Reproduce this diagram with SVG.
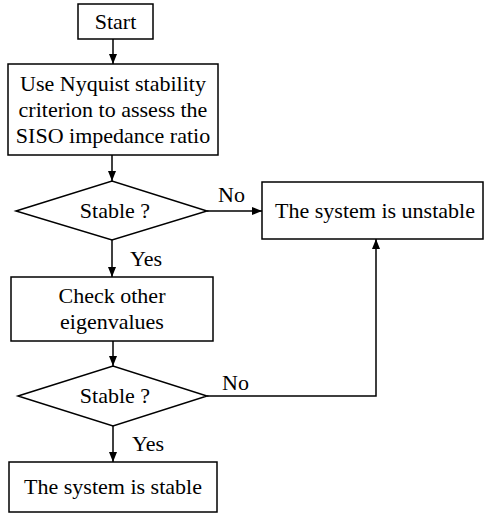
<svg xmlns="http://www.w3.org/2000/svg" width="484" height="515" viewBox="0 0 484 515">
<defs>
<style>
.box{fill:#fff;stroke:#000;stroke-width:1.5}
.t{font-family:'Liberation Serif','Times New Roman',serif;font-size:22px;fill:#000;text-anchor:middle}
.l{font-family:'Liberation Serif','Times New Roman',serif;font-size:22px;fill:#000}
.c{fill:none;stroke:#000;stroke-width:1.5}
</style>
<marker id="ah" markerWidth="10" markerHeight="8" refX="10" refY="4" orient="auto" markerUnits="userSpaceOnUse">
<path d="M0,0 L10,4 L0,8 Z" fill="#000"/>
</marker>
</defs>
<rect width="484" height="515" fill="#fff"/>
<g id="start"><rect class="box" x="78" y="4" width="75" height="35"/><text class="t" x="115.5" y="29">Start</text></g>
<g id="nyquist"><rect class="box" x="8" y="64" width="210" height="91"/>
<text class="t" x="113" y="91">Use Nyquist stability</text>
<text class="t" x="113" y="117">criterion to assess the</text>
<text class="t" x="113" y="143">SISO impedance ratio</text></g>
<g id="stable1"><polygon class="box" points="16,211 112,181 207,211 112,240"/><text class="t" x="115" y="218">Stable ?</text></g>
<g id="unstable"><rect class="box" x="262" y="182" width="221" height="57"/><text class="t" x="375" y="218">The system is unstable</text></g>
<g id="check"><rect class="box" x="11" y="277" width="202" height="64"/>
<text class="t" x="112" y="303">Check other</text>
<text class="t" x="112" y="329">eigenvalues</text></g>
<g id="stable2"><polygon class="box" points="18,396 113,366 207,396 113,426"/><text class="t" x="115" y="403">Stable ?</text></g>
<g id="stable"><rect class="box" x="9" y="462" width="208" height="50"/><text class="t" x="113" y="494">The system is stable</text></g>
<g id="connectors">
<line class="c" x1="113" y1="39" x2="113" y2="64" marker-end="url(#ah)"/>
<line class="c" x1="112" y1="155" x2="112" y2="181" marker-end="url(#ah)"/>
<line class="c" x1="207" y1="211" x2="262" y2="211" marker-end="url(#ah)"/>
<line class="c" x1="112" y1="240" x2="112" y2="277" marker-end="url(#ah)"/>
<line class="c" x1="113" y1="341" x2="113" y2="366" marker-end="url(#ah)"/>
<polyline class="c" points="207,396 376,396 376,239" marker-end="url(#ah)"/>
<line class="c" x1="113" y1="426" x2="113" y2="462" marker-end="url(#ah)"/>
<text class="l" x="218" y="202">No</text>
<text class="l" x="130" y="266">Yes</text>
<text class="l" x="222" y="390">No</text>
<text class="l" x="132" y="451">Yes</text>
</g>
</svg>
